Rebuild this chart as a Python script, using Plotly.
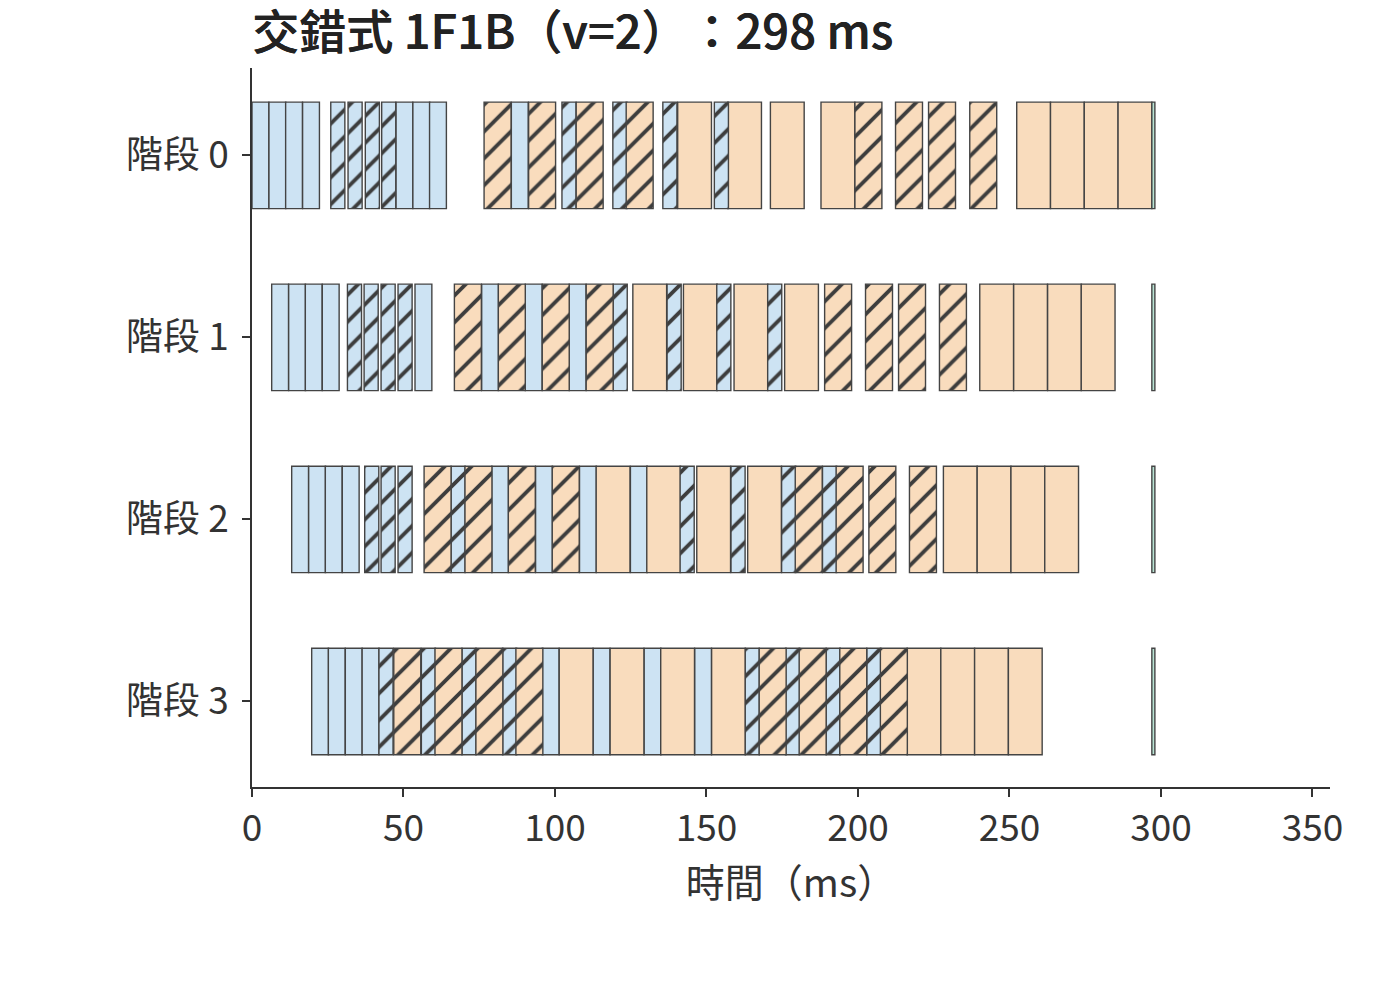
import plotly.graph_objects as go

# 流水線排程：4 個階段，每個階段 2 個模型塊（v=2），8 個微批次
stages = ["階段 0", "階段 1", "階段 2", "階段 3"]

# 每種區塊的長度（ms）
fwd0_ms = 5.56   # 前向，塊 0
fwd1_ms = 4.65   # 前向，塊 1（斜線）
bwd0_ms = 11.15  # 反向，塊 0
bwd1_ms = 8.9    # 反向，塊 1（斜線）
step_ms = 1.0    # 優化器更新

# 各階段的開始時間（ms）
fwd0_start = [
    [0.0, 5.6, 11.1, 16.7, 47.5, 53.1, 58.6, 85.6],
    [6.5, 12.1, 17.6, 23.2, 53.8, 75.8, 90.2, 104.7],
    [13.1, 18.7, 24.2, 29.8, 79.1, 93.6, 108.1, 124.9],
    [19.7, 25.2, 30.8, 36.35, 95.8, 112.6, 129.4, 146.1],
]
fwd1_start = [
    [26.0, 31.7, 37.4, 42.8, 102.3, 119.1, 135.6, 152.6],
    [31.5, 37.0, 42.6, 48.2, 119.2, 137.0, 153.4, 170.2],
    [37.2, 42.6, 48.2, 65.7, 141.3, 158.1, 174.8, 188.3],
    [41.9, 55.9, 69.3, 82.7, 162.8, 176.1, 189.5, 202.9],
]
bwd0_start = [
    [140.5, 157.0, 171.1, 187.8, 252.4, 263.55, 274.7, 285.85],
    [125.7, 142.4, 159.1, 175.8, 240.2, 251.4, 262.6, 273.7],
    [113.6, 130.3, 146.8, 163.6, 228.2, 239.35, 250.5, 261.65],
    [101.4, 118.2, 134.9, 151.7, 216.2, 227.35, 238.5, 249.65],
]
bwd1_start = [
    [76.6, 91.3, 107.0, 123.5, 199.0, 212.4, 223.3, 236.9],
    [66.8, 81.3, 95.8, 110.3, 189.0, 202.5, 213.4, 226.9],
    [56.8, 70.3, 84.6, 99.1, 179.3, 192.8, 203.6, 217.0],
    [46.8, 60.4, 73.9, 87.1, 167.4, 180.6, 194.0, 207.4],
]
step_start = [297.0, 297.0, 297.0, 297.0]
total_ms = 298

FWD_COLOR = "#cde3f3"
BWD_COLOR = "#f9dcbd"
STEP_COLOR = "#b9e4d4"
EDGE = "#444444"
FONT = "Noto Sans CJK TC"


def blocks(starts, dur, color, hatch):
    ys, xs, bases = [], [], []
    for i, row in enumerate(starts):
        for s in row:
            ys.append(i)
            xs.append(dur)
            bases.append(s)
    marker = dict(color=color, line=dict(color=EDGE, width=1.4))
    if hatch:
        marker["pattern"] = dict(shape="/", fgcolor="#3d3d3d", bgcolor=color,
                                 size=19, solidity=0.2, fillmode="replace")
    return go.Bar(y=ys, x=xs, base=bases, orientation="h", width=0.585,
                  marker=marker, showlegend=False, hoverinfo="skip")


fig = go.Figure()
fig.add_trace(blocks(fwd0_start, fwd0_ms, FWD_COLOR, False))
fig.add_trace(blocks(bwd0_start, bwd0_ms, BWD_COLOR, False))
fig.add_trace(blocks(fwd1_start, fwd1_ms, FWD_COLOR, True))
fig.add_trace(blocks(bwd1_start, bwd1_ms, BWD_COLOR, True))
fig.add_trace(blocks([[s] for s in step_start], step_ms, STEP_COLOR, False))

# 頁面本身約有 8px 的邊距，因此寬高各扣掉 8px
fig.update_layout(
    width=1392, height=976,
    barmode="overlay",
    plot_bgcolor="white", paper_bgcolor="white",
    margin=dict(l=244, r=70, t=60, b=197),
    font=dict(family=FONT, size=37, color="#333333"),
    title=dict(text=f"交錯式 1F1B（v=2）：{total_ms} ms",
               font=dict(family=FONT, size=47, color="#222222", weight=500,
                         shadow="0.5px 0 0 #222222"),
               xref="paper", x=0, xanchor="left",
               yref="container", y=1 - 25 / 976, yanchor="middle"),
)
fig.update_xaxes(range=[0, 355.8], tickvals=[0, 50, 100, 150, 200, 250, 300, 350],
                 showgrid=False, zeroline=False,
                 showline=True, linecolor="#333333", linewidth=1.5,
                 ticks="outside", ticklen=8, tickwidth=1.5, tickcolor="#333333",
                 title=dict(text="時間（ms）", font=dict(size=39), standoff=8))
fig.update_yaxes(range=[3.47, -0.48], tickvals=[0, 1, 2, 3], ticktext=stages,
                 showgrid=False, zeroline=False,
                 showline=True, linecolor="#333333", linewidth=1.5,
                 ticks="outside", ticklen=8, tickwidth=1.5, tickcolor="#333333",
                 ticklabelstandoff=6)

fig.write_html("out.html",
               post_script="document.body.style.setProperty('text-spacing-trim', 'space-all');")
